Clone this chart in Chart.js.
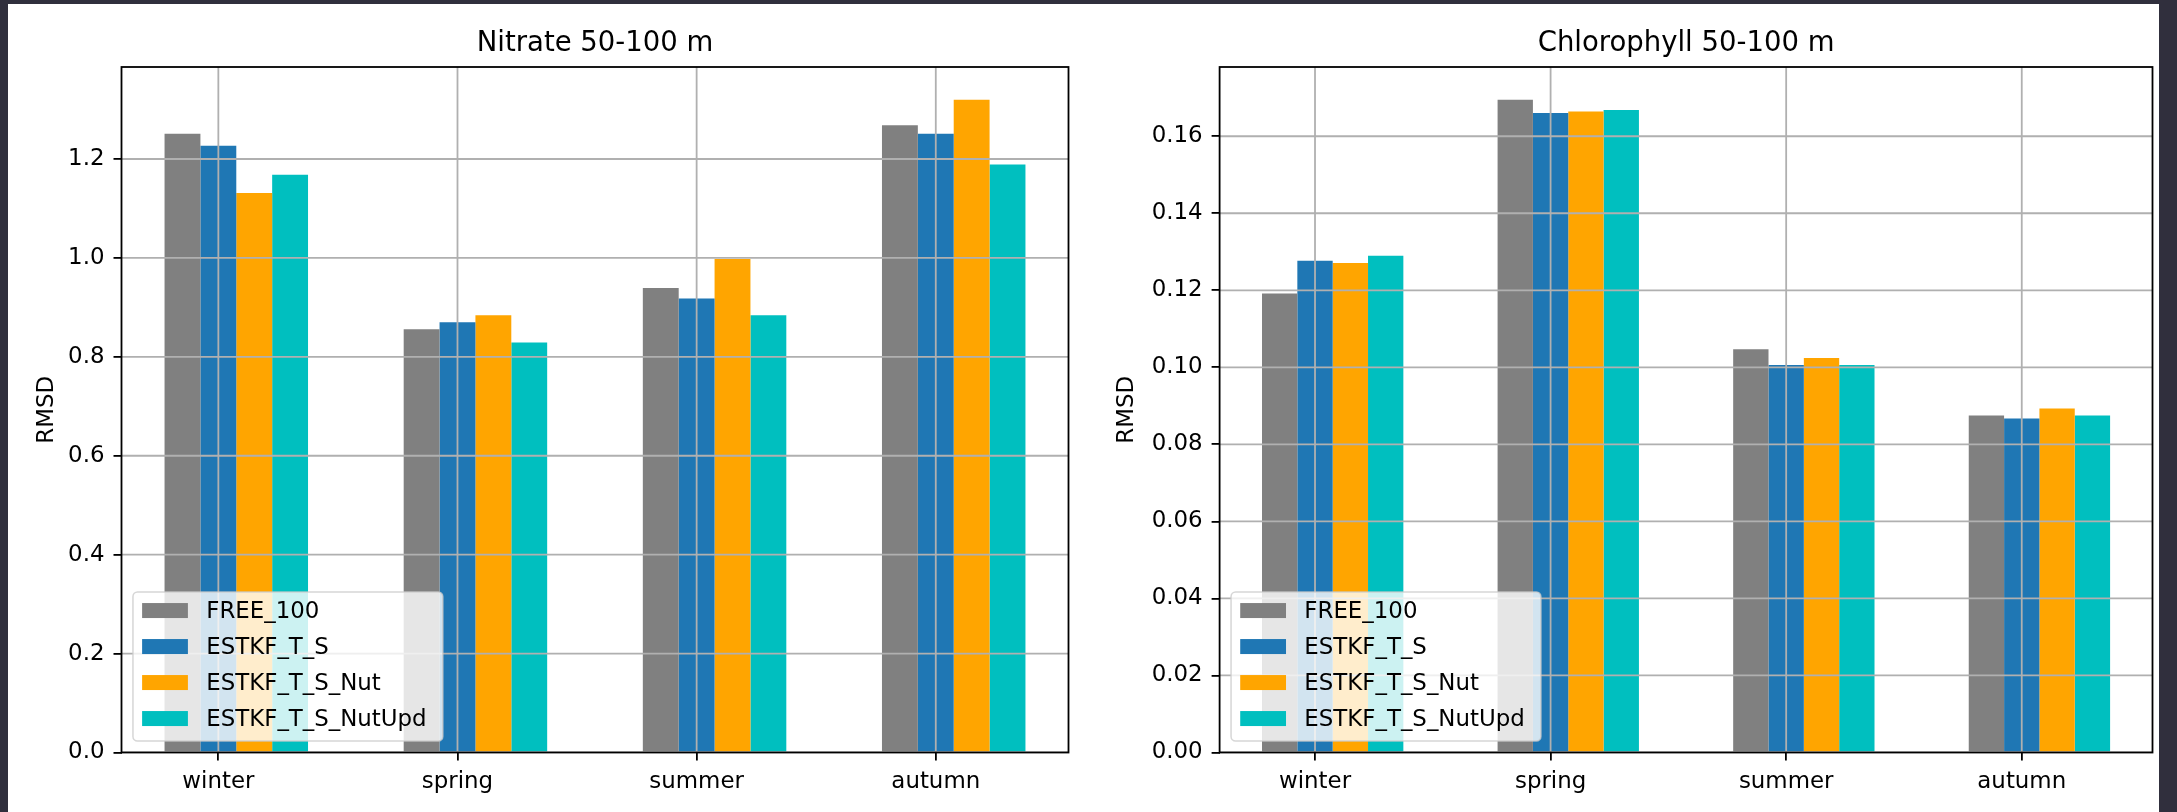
<!DOCTYPE html>
<html>
<head>
<meta charset="utf-8">
<title>RMSD by season</title>
<script src="https://cdn.jsdelivr.net/npm/chart.js@4.4.1/dist/chart.umd.min.js"></script>
<style>
  html, body { margin: 0; padding: 0; background: #ffffff; width: 2177px; height: 812px; overflow: hidden; }
  canvas { position: absolute; top: 0; }
  #nitrate { left: 0; }
  #chl { left: 1100px; }
  .edge { position: absolute; background: #302f3d; z-index: 5; }
  #edgeTop { left: 0; top: 0; width: 2177px; height: 4px; }
  #edgeLeft { left: 0; top: 0; width: 8px; height: 812px; }
  #edgeRight { right: 0; top: 0; width: 18px; height: 812px; }
</style>
</head>
<body>
<canvas id="nitrate" width="1100" height="812"></canvas>
<canvas id="chl" width="1077" height="812"></canvas>
<div class="edge" id="edgeTop"></div>
<div class="edge" id="edgeLeft"></div>
<div class="edge" id="edgeRight"></div>
<script>
// Seasons on the x axis and the four model runs
const seasons = ['winter', 'spring', 'summer', 'autumn'];
const runNames = ['FREE_100', 'ESTKF_T_S', 'ESTKF_T_S_Nut', 'ESTKF_T_S_NutUpd'];
const runColors = ['#808080', '#1f77b4', '#ffa500', '#00bfbf'];

// Nitrate RMSD, 50-100 m
const nitrateFree = [1.251, 0.856, 0.939, 1.268];
const nitrateTS = [1.227, 0.870, 0.918, 1.251];
const nitrateNut = [1.131, 0.884, 0.998, 1.320];
const nitrateNutUpd = [1.168, 0.829, 0.884, 1.189];

// Chlorophyll RMSD, 50-100 m
const chlFree = [0.1192, 0.1695, 0.1047, 0.0875];
const chlTS = [0.1277, 0.1660, 0.1006, 0.0867];
const chlNut = [0.1271, 0.1664, 0.1024, 0.0893];
const chlNutUpd = [0.1290, 0.1668, 0.1006, 0.0875];

// y tick values
const nitrateTicks = [0.0, 0.2, 0.4, 0.6, 0.8, 1.0, 1.2];
const chlTicks = [0.00, 0.02, 0.04, 0.06, 0.08, 0.10, 0.12, 0.14, 0.16];

// Bar layout: bars are 0.15 wide at x-w, x, x+w, x+2w; one empty slot
// in front keeps the group centred so the season tick sits on the 2nd bar.
const BAR_W = 0.15;
const SLOTS = 5;
const FS = 22.9;              // 10 pt text
const FONT = "'DejaVu Sans', sans-serif";

Chart.defaults.font.family = FONT;
Chart.defaults.color = '#000000';

function xLimits() {
  const lo = -1.5 * BAR_W;
  const hi = (seasons.length - 1) + 2.5 * BAR_W;
  const m = 0.05 * (hi - lo);
  return [lo - m, hi + m];
}

// matplotlib-style grid over the bars, full frame and inset legend
const mplLook = {
  id: 'mplLook',
  afterDatasetsDraw(chart) {
    const { ctx, chartArea: a, scales: { x, y } } = chart;
    ctx.save();
    ctx.beginPath();
    ctx.rect(a.left, a.top, a.width, a.height);
    ctx.clip();
    ctx.strokeStyle = '#b0b0b0';
    ctx.lineWidth = 1.8;
    ctx.beginPath();
    for (const t of x.ticks) {
      const px = x.getPixelForValue(t.value);
      ctx.moveTo(px, a.top); ctx.lineTo(px, a.bottom);
    }
    for (const t of y.ticks) {
      const py = y.getPixelForValue(t.value);
      ctx.moveTo(a.left, py); ctx.lineTo(a.right, py);
    }
    ctx.stroke();
    ctx.restore();

    ctx.save();
    ctx.strokeStyle = '#000000';
    ctx.lineWidth = 1.8;
    ctx.strokeRect(a.left, a.top, a.width, a.height);
    ctx.restore();
  },
  afterDraw(chart) {
    const { ctx, chartArea: a } = chart;
    const items = chart.data.datasets.filter(d => d.label);
    const pad = 0.4 * FS, handleW = 2 * FS, handleH = 15, textPad = 0.8 * FS;
    const rowStep = 36;
    ctx.save();
    ctx.font = `${FS}px ${FONT}`;
    let textW = 0;
    for (const d of items) textW = Math.max(textW, ctx.measureText(d.label).width);
    const boxW = pad + handleW + textPad + textW + pad + 7;
    const boxH = items.length * rowStep + 5;
    const left = a.left + 0.5 * FS;
    const top = a.bottom - 0.5 * FS - boxH;

    ctx.beginPath();
    ctx.roundRect(left, top, boxW, boxH, 0.2 * FS);
    ctx.fillStyle = 'rgba(255,255,255,0.8)';
    ctx.fill();
    ctx.strokeStyle = 'rgba(204,204,204,0.8)';
    ctx.lineWidth = 1.5;
    ctx.stroke();

    ctx.textAlign = 'left';
    ctx.textBaseline = 'middle';
    items.forEach((d, i) => {
      const cy = top + 18.5 + i * rowStep;
      ctx.fillStyle = d.backgroundColor;
      ctx.fillRect(left + pad, cy - handleH / 2, handleW, handleH);
      ctx.fillStyle = '#000000';
      ctx.fillText(d.label, left + pad + handleW + textPad, cy + 1);
    });
    ctx.restore();
  }
};

function buildChart(canvasId, title, series, ticks, decimals, yAxisWidth, rightPad, labelPad) {
  const [xMin, xMax] = xLimits();
  const yMax = 1.05 * Math.max(...series.flat());
  const datasets = [{ label: '', data: seasons.map(() => null), backgroundColor: 'rgba(0,0,0,0)' }];
  series.forEach((values, i) => {
    datasets.push({
      label: runNames[i],
      data: values,
      backgroundColor: runColors[i],
      borderWidth: 0
    });
  });
  datasets.forEach(d => { d.barPercentage = 1; d.categoryPercentage = SLOTS * BAR_W; });

  return new Chart(document.getElementById(canvasId), {
    type: 'bar',
    data: { labels: seasons.map((_, i) => i), datasets },
    options: {
      responsive: false,
      animation: false,
      devicePixelRatio: 1,
      layout: { padding: { left: 0, right: rightPad, top: 0, bottom: 0 } },
      plugins: {
        legend: { display: false },
        tooltip: { enabled: false },
        title: {
          display: true,
          text: title,
          fullSize: false,
          color: '#000000',
          font: { size: 27.5, weight: 'normal', family: FONT },
          padding: { top: 27, bottom: 7 }
        }
      },
      scales: {
        x: {
          type: 'linear',
          min: xMin,
          max: xMax,
          bounds: 'data',
          offset: false,
          afterBuildTicks: s => { s.ticks = seasons.map((_, i) => ({ value: i })); },
          afterFit: s => { s.height = 59.5; },
          ticks: {
            callback: v => seasons[v],
            font: { size: FS, family: FONT },
            color: '#000000',
            padding: 8,
            autoSkip: false,
            maxRotation: 0
          },
          grid: { offset: false, drawOnChartArea: false, tickLength: 8, tickColor: '#000000', lineWidth: 1.8 },
          border: { display: false }
        },
        y: {
          type: 'linear',
          min: 0,
          max: yMax,
          bounds: 'data',
          afterBuildTicks: s => { s.ticks = ticks.map(v => ({ value: v })); },
          afterFit: s => { s.width = yAxisWidth; },
          ticks: {
            callback: v => Number(v).toFixed(decimals),
            font: { size: FS, family: FONT },
            color: '#000000',
            padding: 9
          },
          grid: { drawOnChartArea: false, tickLength: 8, tickColor: '#000000', lineWidth: 1.8 },
          border: { display: false },
          title: {
            display: true,
            text: 'RMSD',
            color: '#000000',
            font: { size: FS, family: FONT },
            padding: { top: labelPad, bottom: 0 }
          }
        }
      }
    },
    plugins: [mplLook]
  });
}

buildChart('nitrate', 'Nitrate 50-100 m',
  [nitrateFree, nitrateTS, nitrateNut, nitrateNutUpd], nitrateTicks, 1, 121.5, 31.5, 33.3);
buildChart('chl', 'Chlorophyll 50-100 m',
  [chlFree, chlTS, chlNut, chlNutUpd], chlTicks, 2, 119.6, 24.5, 13.3);
</script>
</body>
</html>
